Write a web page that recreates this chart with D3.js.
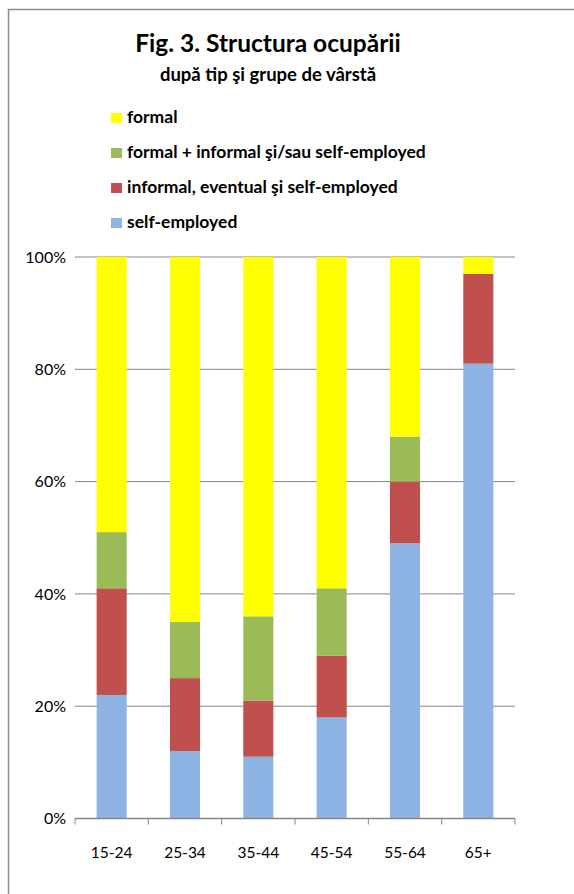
<!DOCTYPE html>
<html>
<head>
<meta charset="utf-8">
<script src="https://cdn.jsdelivr.net/npm/d3@7"></script>
<style>
  body { margin: 0; background: #fff; }
  svg { display: block; font-family: Lato, "Open Sans", sans-serif; }
</style>
</head>
<body>
<svg id="chart" width="574" height="894"></svg>
<script>
// -- data -- //
let ageGroups = ["15-24", "25-34", "35-44", "45-54", "55-64", "65+"];
let seriesNames = ["self-employed", "informal, eventual şi self-employed", "formal + informal şi/sau self-employed", "formal"];
let selfEmployed = [22, 12, 11, 18, 49, 81];
let informal = [19, 13, 10, 11, 11, 16];
let formalInformal = [10, 10, 15, 12, 8, 0];
let formal = [49, 65, 64, 59, 32, 3];
let yTicks = [0, 0.2, 0.4, 0.6, 0.8, 1];
let colors = ["#8EB4E3", "#C0504D", "#9BBB59", "#FFFF00"];

let table = ageGroups.map((g, i) => ({
    group: g,
    "self-employed": selfEmployed[i],
    "informal, eventual şi self-employed": informal[i],
    "formal + informal şi/sau self-employed": formalInformal[i],
    "formal": formal[i]
}));

let svg = d3.select("#chart");

// -- frame -- //
svg.append("rect")
    .attr("x", 8.5).attr("y", 9.5)
    .attr("width", 600).attr("height", 900)
    .style("fill", "none").style("stroke", "#8c8c8c").style("stroke-width", 1.5);

// -- title -- //
svg.append("text")
    .attr("x", 268).attr("y", 52)
    .attr("text-anchor", "middle")
    .style("font-size", "24.5px").style("font-weight", "bold")
    .text("Fig. 3. Structura ocupării");
svg.append("text")
    .attr("x", 268).attr("y", 81)
    .attr("text-anchor", "middle")
    .style("font-size", "18.5px").style("font-weight", "bold")
    .text("după tip şi grupe de vârstă");

// -- legend (top to bottom = formal first) -- //
let legendItems = seriesNames.map((s, i) => ({ name: s, color: colors[i] })).reverse();
let legend = svg.append("g").attr("transform", "translate(111, 123)");
legend.selectAll("g")
    .data(legendItems)
    .enter()
    .append("g")
    .attr("transform", (d, i) => `translate(0, ${i * 35})`)
    .each(function (d) {
        let g = d3.select(this);
        g.append("rect").attr("x", 0).attr("y", -10).attr("width", 11).attr("height", 10).style("fill", d.color);
        g.append("text").attr("x", 16).attr("y", 0)
            .style("font-size", "17.5px").style("font-weight", "bold")
            .text(d.name);
    });

// -- scales -- //
let plotLeft = 75, plotRight = 515, plotTop = 257, plotBottom = 818.5;
let xScale = d3.scaleBand().domain(ageGroups).range([plotLeft, plotRight]).paddingInner(0.59).paddingOuter(0.295);
let xBand = d3.scaleBand().domain(ageGroups).range([plotLeft, plotRight]);
let yScale = d3.scaleLinear().domain([0, 1]).range([plotBottom, plotTop]);

// -- gridlines -- //
svg.append("g")
    .selectAll("line")
    .data(yTicks.slice(1))
    .enter()
    .append("line")
    .attr("x1", plotLeft).attr("x2", plotRight)
    .attr("y1", d => yScale(d)).attr("y2", d => yScale(d))
    .style("stroke", "#868686").style("stroke-width", 1);

// -- stacked bars -- //
let stack = d3.stack().keys(seriesNames)
    .offset(d3.stackOffsetExpand);
let layers = stack(table);

svg.append("g")
    .selectAll("g")
    .data(layers)
    .enter()
    .append("g")
    .style("fill", (d, i) => colors[i])
    .selectAll("rect")
    .data(d => d)
    .enter()
    .append("rect")
    .attr("x", d => xScale(d.data.group))
    .attr("y", d => yScale(d[1]))
    .attr("width", xScale.bandwidth())
    .attr("height", d => yScale(d[0]) - yScale(d[1]));

// -- y axis labels -- //
let yAxis = d3.axisLeft(yScale).tickValues(yTicks).tickFormat(d3.format(".0%")).tickSize(0).tickPadding(9);
let yG = svg.append("g").attr("transform", `translate(${plotLeft}, 0)`).call(yAxis);
yG.select(".domain").remove();
yG.attr("font-family", null).attr("font-size", null);
yG.selectAll("text").style("font-size", "16px").style("fill", "#000");

// -- x axis -- //
let xG = svg.append("g").attr("transform", `translate(0, ${plotBottom})`);
xG.append("line").attr("x1", plotLeft).attr("x2", plotRight).attr("y1", 0).attr("y2", 0)
    .style("stroke", "#868686").style("stroke-width", 1.5);
xG.selectAll(".tk")
    .data(ageGroups.concat(["end"]))
    .enter()
    .append("line")
    .attr("class", "tk")
    .attr("x1", (d, i) => plotLeft + i * xBand.step())
    .attr("x2", (d, i) => plotLeft + i * xBand.step())
    .attr("y1", 0).attr("y2", 6)
    .style("stroke", "#868686").style("stroke-width", 1);
xG.selectAll("text")
    .data(ageGroups)
    .enter()
    .append("text")
    .attr("x", d => xBand(d) + xBand.bandwidth() / 2)
    .attr("y", 39)
    .attr("text-anchor", "middle")
    .style("font-size", "15.5px")
    .text(d => d);
</script>
</body>
</html>
